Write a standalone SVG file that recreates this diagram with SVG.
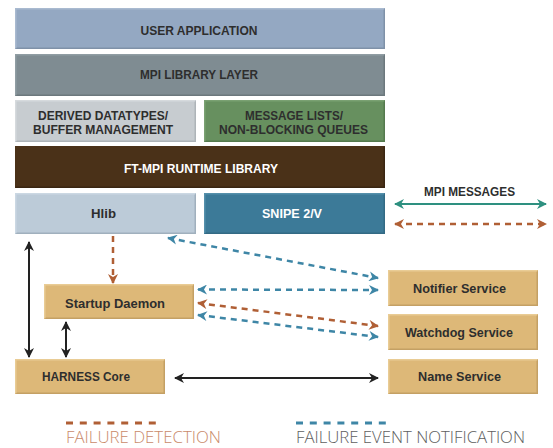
<svg xmlns="http://www.w3.org/2000/svg" width="553" height="448" viewBox="0 0 553 448">
<style>
.lbl{font-family:"Liberation Sans","Open Sans",sans-serif;font-weight:bold;font-size:13px;fill:#2e2e2e;text-anchor:middle}
.wht{fill:#ffffff}
.leg{font-family:"Open Sans","Liberation Sans",sans-serif;font-weight:300;font-size:16.5px}
.bev{fill:none;stroke-width:1.5}
.blue{stroke:#3e86a6;stroke-width:2.5;stroke-dasharray:6 5;fill:none}
.orange{stroke:#b05f35;stroke-width:2.5;stroke-dasharray:6 5;fill:none}
.black{stroke:#222222;stroke-width:2;fill:none}
.teal{stroke:#2e9080;stroke-width:2;fill:none}
</style>
<defs>
<marker id="ab" viewBox="0 0 10 10" refX="9" refY="5" markerWidth="11" markerHeight="10" markerUnits="userSpaceOnUse" orient="auto-start-reverse"><path d="M0,0 L10,5 L0,10 L3,5 z" fill="#3e86a6"/></marker>
<marker id="ao" viewBox="0 0 10 10" refX="9" refY="5" markerWidth="11" markerHeight="10" markerUnits="userSpaceOnUse" orient="auto-start-reverse"><path d="M0,0 L10,5 L0,10 L3,5 z" fill="#b05f35"/></marker>
<marker id="ak" viewBox="0 0 10 10" refX="9" refY="5" markerWidth="11" markerHeight="10" markerUnits="userSpaceOnUse" orient="auto-start-reverse"><path d="M0,0 L10,5 L0,10 L3,5 z" fill="#222222"/></marker>
<marker id="at" viewBox="0 0 10 10" refX="9" refY="5" markerWidth="11" markerHeight="10" markerUnits="userSpaceOnUse" orient="auto-start-reverse"><path d="M0,0 L10,5 L0,10 L3,5 z" fill="#2e9080"/></marker>
</defs>
<rect width="553" height="448" fill="#ffffff"/>

<g id="user-application">
<rect x="15" y="8" width="370" height="41" fill="#94a8c2"/>
<path class="bev" d="M15.75,48.25 H384.25 V8.75" stroke="#7f91a8"/>
<path class="bev" d="M15.75,48.25 V8.75 H384.25" stroke="#a9bad0"/>
<text class="lbl" x="199" y="35" textLength="117" lengthAdjust="spacingAndGlyphs">USER APPLICATION</text>
</g>
<g id="mpi-library-layer">
<rect x="15" y="54" width="370" height="42" fill="#7f8c92"/>
<path class="bev" d="M15.75,95.25 H384.25 V54.75" stroke="#6c787d"/>
<path class="bev" d="M15.75,95.25 V54.75 H384.25" stroke="#909da3"/>
<text class="lbl" x="199" y="78.5" textLength="118" lengthAdjust="spacingAndGlyphs">MPI LIBRARY LAYER</text>
</g>
<g id="derived-datatypes">
<rect x="15" y="100" width="181" height="42" fill="#c7ccd0"/>
<path class="bev" d="M15.75,141.25 H195.25 V100.75" stroke="#aeb4b8"/>
<path class="bev" d="M15.75,141.25 V100.75 H195.25" stroke="#d6dadd"/>
<text class="lbl" x="103" y="119.5" textLength="130" lengthAdjust="spacingAndGlyphs">DERIVED DATATYPES/</text>
<text class="lbl" x="103" y="134" textLength="140" lengthAdjust="spacingAndGlyphs">BUFFER MANAGEMENT</text>
</g>
<g id="message-lists">
<rect x="204" y="100" width="181" height="42" fill="#67905f"/>
<path class="bev" d="M204.75,141.25 H384.25 V100.75" stroke="#557a4e"/>
<path class="bev" d="M204.75,141.25 V100.75 H384.25" stroke="#7aa172"/>
<text class="lbl" x="294" y="119.5" textLength="98" lengthAdjust="spacingAndGlyphs">MESSAGE LISTS/</text>
<text class="lbl" x="293.5" y="134" textLength="149" lengthAdjust="spacingAndGlyphs">NON-BLOCKING QUEUES</text>
</g>
<g id="ft-mpi-runtime">
<rect x="15" y="146" width="370" height="42" fill="#4a3118"/>
<path class="bev" d="M15.75,187.25 H384.25 V146.75" stroke="#3a2612"/>
<text class="lbl wht" x="201" y="173" textLength="154" lengthAdjust="spacingAndGlyphs">FT-MPI RUNTIME LIBRARY</text>
</g>
<g id="hlib">
<rect x="15" y="193" width="181" height="41" fill="#bccbd8"/>
<path class="bev" d="M15.75,233.25 H195.25 V193.75" stroke="#a0b0bd"/>
<path class="bev" d="M15.75,233.25 V193.75 H195.25" stroke="#cbd8e3"/>
<text class="lbl" x="103.5" y="218" textLength="25" lengthAdjust="spacingAndGlyphs">Hlib</text>
</g>
<g id="snipe">
<rect x="204" y="193" width="181" height="41" fill="#3c7a98"/>
<path class="bev" d="M204.75,233.25 H384.25 V193.75" stroke="#336a84"/>
<path class="bev" d="M204.75,233.25 V193.75 H384.25" stroke="#5590ab"/>
<text class="lbl wht" x="292" y="218" textLength="60" lengthAdjust="spacingAndGlyphs">SNIPE 2/V</text>
</g>
<g id="startup-daemon">
<rect x="44" y="284" width="150" height="35" fill="#ddb878"/>
<path class="bev" d="M44.75,318.25 H193.25 V284.75" stroke="#c4a064"/>
<path class="bev" d="M44.75,318.25 V284.75 H193.25" stroke="#e9cc95"/>
<text class="lbl" x="115" y="308" textLength="100" lengthAdjust="spacingAndGlyphs">Startup Daemon</text>
</g>
<g id="harness-core">
<rect x="15" y="359" width="150" height="35" fill="#ddb878"/>
<path class="bev" d="M15.75,393.25 H164.25 V359.75" stroke="#c4a064"/>
<path class="bev" d="M15.75,393.25 V359.75 H164.25" stroke="#e9cc95"/>
<text class="lbl" x="86" y="381" textLength="88" lengthAdjust="spacingAndGlyphs">HARNESS Core</text>
</g>
<g id="notifier-service">
<rect x="388" y="270" width="150" height="36" fill="#ddb878"/>
<path class="bev" d="M388.75,305.25 H537.25 V270.75" stroke="#c4a064"/>
<path class="bev" d="M388.75,305.25 V270.75 H537.25" stroke="#e9cc95"/>
<text class="lbl" x="459.5" y="293" textLength="93" lengthAdjust="spacingAndGlyphs">Notifier Service</text>
</g>
<g id="watchdog-service">
<rect x="388" y="314" width="150" height="36" fill="#ddb878"/>
<path class="bev" d="M388.75,349.25 H537.25 V314.75" stroke="#c4a064"/>
<path class="bev" d="M388.75,349.25 V314.75 H537.25" stroke="#e9cc95"/>
<text class="lbl" x="459" y="337" textLength="108" lengthAdjust="spacingAndGlyphs">Watchdog Service</text>
</g>
<g id="name-service">
<rect x="388" y="359" width="150" height="35" fill="#ddb878"/>
<path class="bev" d="M388.75,393.25 H537.25 V359.75" stroke="#c4a064"/>
<path class="bev" d="M388.75,393.25 V359.75 H537.25" stroke="#e9cc95"/>
<text class="lbl" x="459.5" y="381" textLength="83" lengthAdjust="spacingAndGlyphs">Name Service</text>
</g>

<g id="connectors">
<line class="orange" x1="113" y1="236" x2="113" y2="283" marker-end="url(#ao)"/>
<line class="black" x1="29" y1="242" x2="29" y2="357" marker-start="url(#ak)" marker-end="url(#ak)"/>
<line class="black" x1="66" y1="322" x2="66" y2="357" marker-start="url(#ak)" marker-end="url(#ak)"/>
<line class="black" x1="175" y1="378" x2="378" y2="378" marker-start="url(#ak)" marker-end="url(#ak)"/>
<line class="blue" x1="168" y1="238" x2="378" y2="278" marker-start="url(#ab)" marker-end="url(#ab)"/>
<line class="blue" x1="198" y1="289.5" x2="378" y2="290" marker-start="url(#ab)" marker-end="url(#ab)"/>
<line class="orange" x1="198" y1="303" x2="378" y2="326" marker-start="url(#ao)" marker-end="url(#ao)"/>
<line class="blue" x1="198" y1="315" x2="378" y2="337" marker-start="url(#ab)" marker-end="url(#ab)"/>
</g>

<g id="legend">
<text class="lbl" x="469.5" y="196" textLength="91" lengthAdjust="spacingAndGlyphs">MPI MESSAGES</text>
<line class="teal" x1="395" y1="204" x2="546" y2="204" marker-start="url(#at)" marker-end="url(#at)"/>
<line class="orange" x1="395" y1="224" x2="546" y2="224" marker-start="url(#ao)" marker-end="url(#ao)"/>
<line x1="66" y1="423" x2="156" y2="423" stroke="#b05f35" stroke-width="3" stroke-dasharray="7 6.8"/>
<text class="leg" x="66" y="443" fill="#c98a6a" textLength="155" lengthAdjust="spacingAndGlyphs">FAILURE DETECTION</text>
<line x1="296" y1="423" x2="386" y2="423" stroke="#3e86a6" stroke-width="3" stroke-dasharray="7 6.8"/>
<text class="leg" x="296" y="443" fill="#5e5e5e" textLength="229" lengthAdjust="spacingAndGlyphs">FAILURE EVENT NOTIFICATION</text>
</g>
</svg>
